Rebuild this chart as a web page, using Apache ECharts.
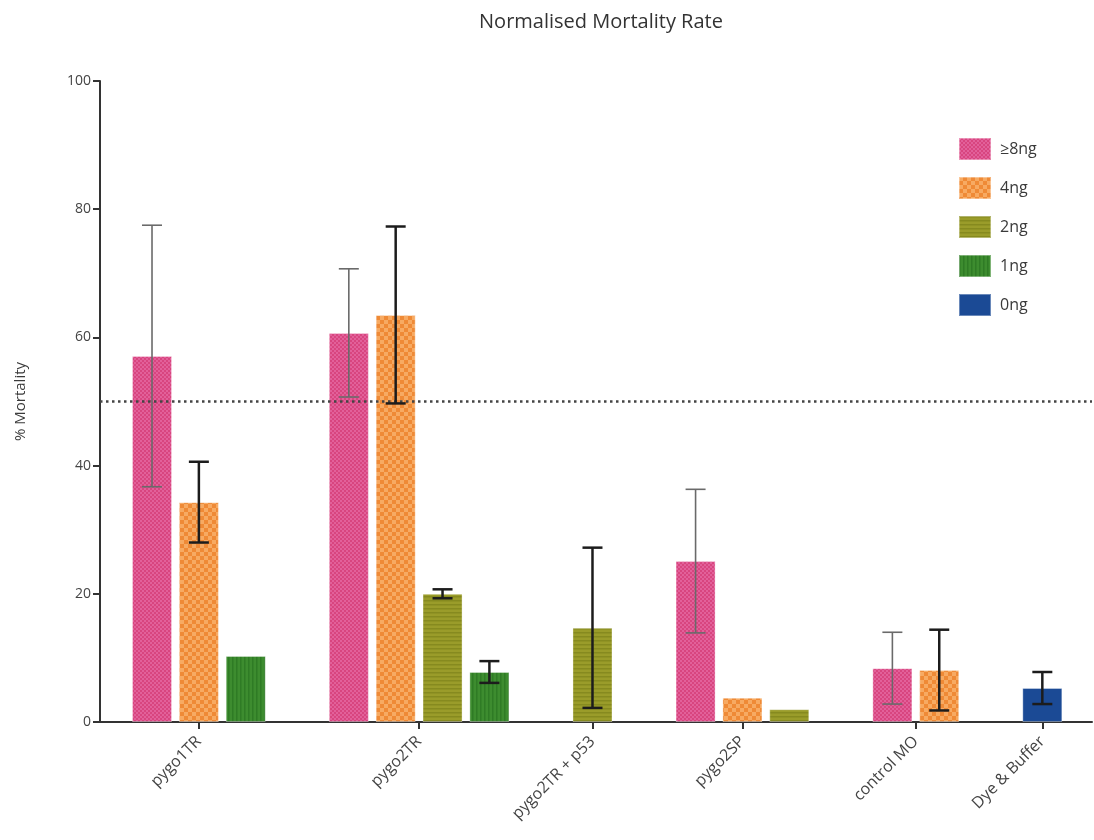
<!DOCTYPE html>
<html>
<head>
<meta charset="utf-8">
<title>Normalised Mortality Rate</title>
<script src="https://cdn.jsdelivr.net/npm/echarts@6/dist/echarts.min.js"></script>
<style>
  html, body { margin: 0; padding: 0; background: #fff; }
  #chart { width: 1094px; height: 840px; }
</style>
</head>
<body>
<div id="chart"></div>
<script>
// Injection groups along the x axis
const categories = ['pygo1TR', 'pygo2TR', 'pygo2TR + p53', 'pygo2SP', 'control MO', 'Dye & Buffer'];
// Morpholino doses (one bar series each)
const doses = ['≥8ng', '4ng', '2ng', '1ng', '0ng'];

// Mean % mortality per group (null = dose not injected)
const mortality8ng = [57.1, 60.7, null, 25.1, 8.4, null];
const mortality4ng = [34.3, 63.5, null, 3.8, 8.1, null];
const mortality2ng = [null, 20.0, 14.7, 2.0, null, null];
const mortality1ng = [10.3, 7.8, null, null, null, null];
const mortality0ng = [null, null, null, null, null, 5.3];

// Error (± SEM) per group (null = no error bar drawn)
const error8ng = [20.4, 10.0, null, 11.2, 5.6, null];
const error4ng = [6.3, 13.8, null, null, 6.3, null];
const error2ng = [null, 0.7, 12.5, null, null, null];
const error1ng = [null, 1.7, null, null, null, null];
const error0ng = [null, null, null, null, null, 2.5];

const yTicks = [0, 20, 40, 60, 80, 100];
const threshold = 50;

const means = [mortality8ng, mortality4ng, mortality2ng, mortality1ng, mortality0ng];
const errors = [error8ng, error4ng, error2ng, error1ng, error0ng];

// ---- Layout: bars sit side by side within a group, only for doses present;
// groups are separated by an extra gap (in bar-slot units).
const GROUP_GAP = 1.2;
const barX = doses.map(() => categories.map(() => null));
const groupCentres = [];
let slot = 0;
categories.forEach((cat, g) => {
  const xs = [];
  doses.forEach((d, s) => {
    if (means[s][g] != null) {
      const x = slot + g * GROUP_GAP;
      barX[s][g] = x;
      xs.push(x);
      slot++;
    }
  });
  groupCentres.push((xs[0] + xs[xs.length - 1]) / 2);
});

// ---- Fill patterns
function makePattern(size, draw) {
  const c = document.createElement('canvas');
  c.width = size; c.height = size;
  draw(c.getContext('2d'), size);
  return { image: c, repeat: 'repeat' };
}
const patterns = [
  makePattern(4, (ctx, n) => {           // fine dotted magenta
    ctx.fillStyle = '#d8457f'; ctx.fillRect(0, 0, n, n);
    ctx.fillStyle = '#e2609a'; ctx.fillRect(0, 0, 2, 2); ctx.fillRect(2, 2, 2, 2);
  }),
  makePattern(8, (ctx, n) => {           // orange checks
    ctx.fillStyle = '#ef8a36'; ctx.fillRect(0, 0, n, n);
    ctx.fillStyle = '#f7aa62'; ctx.fillRect(0, 0, 4, 4); ctx.fillRect(4, 4, 4, 4);
  }),
  makePattern(4, (ctx, n) => {           // olive horizontal stripes
    ctx.fillStyle = '#9a9c2a'; ctx.fillRect(0, 0, n, n);
    ctx.fillStyle = '#868a1f'; ctx.fillRect(0, 0, n, 1.5);
  }),
  makePattern(4, (ctx, n) => {           // green vertical stripes
    ctx.fillStyle = '#3d8c2f'; ctx.fillRect(0, 0, n, n);
    ctx.fillStyle = '#2f7b25'; ctx.fillRect(0, 0, 1.5, n);
  }),
  '#1b4a95'                              // solid blue
];

const barSeries = doses.map((d, s) => ({
  name: d,
  type: 'bar',
  barWidth: 40,
  barGap: '-100%',
  itemStyle: { color: patterns[s], borderColor: 'rgba(255,255,255,0.35)', borderWidth: 1 },
  data: categories.map((c, g) => means[s][g] == null ? null : [barX[s][g], means[s][g]]).filter(v => v),
  z: 2
}));

// Dotted 50 % reference line
barSeries[0].markLine = {
  silent: true,
  symbol: 'none',
  label: { show: false },
  lineStyle: { color: '#444', width: 2.5, type: [2.5, 3.5] },
  data: [{ yAxis: threshold }]
};

// Error bars: [x, low, high, heavy]
const errData = [];
doses.forEach((d, s) => {
  categories.forEach((c, g) => {
    const m = means[s][g], e = errors[s][g];
    if (m != null && e != null) errData.push([barX[s][g], m - e, m + e, s === 0 ? 0 : 1]);
  });
});

const errorSeries = {
  type: 'custom',
  name: 'error',
  z: 5,
  silent: true,
  encode: { x: 0, y: [1, 2] },
  data: errData,
  renderItem(params, api) {
    const x = api.value(0), lo = api.value(1), hi = api.value(2), heavy = api.value(3);
    const pLo = api.coord([x, lo]), pHi = api.coord([x, hi]);
    const hw = 10;
    const style = { stroke: heavy ? '#1c1c1c' : '#6a6a6a', lineWidth: heavy ? 2.5 : 1.6, fill: null };
    return {
      type: 'group',
      children: [
        { type: 'line', shape: { x1: pLo[0], y1: pLo[1], x2: pHi[0], y2: pHi[1] }, style },
        { type: 'line', shape: { x1: pLo[0] - hw, y1: pLo[1], x2: pLo[0] + hw, y2: pLo[1] }, style },
        { type: 'line', shape: { x1: pHi[0] - hw, y1: pHi[1], x2: pHi[0] + hw, y2: pHi[1] }, style }
      ]
    };
  }
};

const FONT = '"Open Sans", Lato, sans-serif';
const chart = echarts.init(document.getElementById('chart'), null, { renderer: 'canvas' });
chart.setOption({
  backgroundColor: '#fff',
  animation: false,
  textStyle: { fontFamily: FONT },
  title: {
    text: 'Normalised Mortality Rate',
    left: 596,
    textAlign: 'center',
    top: 7,
    textStyle: { fontFamily: FONT, fontSize: 20, fontWeight: 'normal', color: '#333' }
  },
  legend: {
    data: doses,
    orient: 'vertical',
    left: 953,
    top: 132,
    itemWidth: 32,
    itemHeight: 22,
    itemGap: 15,
    icon: 'rect',
    textStyle: { fontFamily: FONT, fontSize: 16, color: '#3a3a3a', padding: [0, 0, 0, 4] }
  },
  grid: { left: 100, right: 2, top: 81, bottom: 118, containLabel: false },
  xAxis: {
    type: 'value',
    min: -1.11,
    max: 20.06,
    splitLine: { show: false },
    axisLine: { show: true, onZero: false, lineStyle: { color: '#333', width: 2 } },
    axisTick: { show: true, customValues: groupCentres, length: 7, lineStyle: { color: '#333', width: 2 } },
    axisLabel: {
      show: true,
      customValues: groupCentres,
      rotate: 45,
      margin: 17,
      fontFamily: FONT,
      fontSize: 16,
      color: '#444',
      formatter: (v) => {
        let best = 0;
        groupCentres.forEach((c, i) => { if (Math.abs(c - v) < Math.abs(groupCentres[best] - v)) best = i; });
        return categories[best];
      }
    }
  },
  yAxis: {
    type: 'value',
    min: yTicks[0],
    max: yTicks[yTicks.length - 1],
    interval: 20,
    name: '% Mortality',
    nameLocation: 'middle',
    nameGap: 72,
    nameTextStyle: { fontFamily: FONT, fontSize: 15, color: '#3a3a3a' },
    splitLine: { show: false },
    axisLine: { show: true, onZero: false, lineStyle: { color: '#333', width: 2 } },
    axisTick: { show: true, length: 7, lineStyle: { color: '#333', width: 2 } },
    axisLabel: { fontFamily: FONT, fontSize: 14, color: '#444', margin: 9 }
  },
  series: [...barSeries, errorSeries]
});
</script>
</body>
</html>
